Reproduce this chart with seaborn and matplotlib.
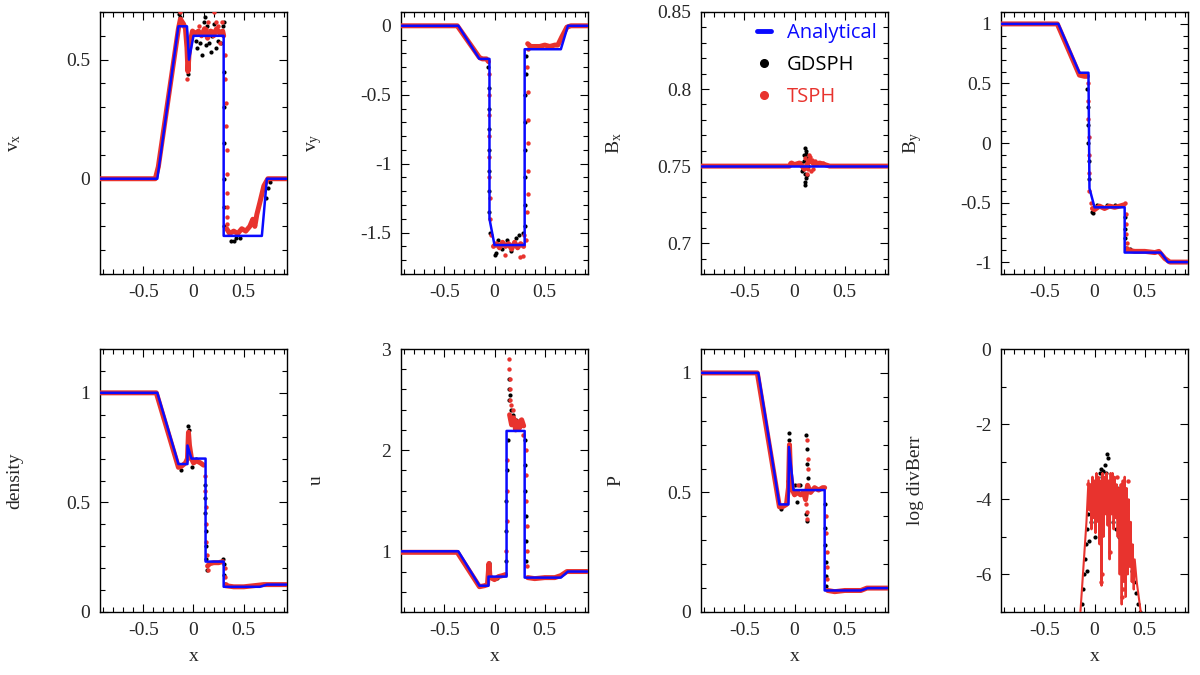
import numpy as np
import pandas as pd
import matplotlib.pyplot as plt
import seaborn as sns
from matplotlib.ticker import MultipleLocator, FormatStrFormatter
from matplotlib.lines import Line2D

sns.set_style("ticks")
plt.rcParams["font.family"] = ["Liberation Serif", "DejaVu Serif"]
plt.rcParams["mathtext.fontset"] = "custom"
plt.rcParams["mathtext.rm"] = "Liberation Serif"
plt.rcParams["mathtext.it"] = "Liberation Serif"

nan = np.nan
BLUE = "#0a0aff"
RED = "#e8332e"

# --- values: (x, value) pairs ---
# analytical solution (piecewise linear breakpoints)
vx_ana = [(-0.93, 0), (-0.36, 0), (-0.15, 0.64), (-0.065, 0.64), (-0.045, 0.50), (0.0, 0.60),
          (0.30, 0.60), (0.30, -0.24), (0.68, -0.24), (0.73, 0), (0.93, 0)]
vy_ana = [(-0.93, 0), (-0.36, 0), (-0.15, -0.24), (-0.05, -0.24), (-0.05, -1.40), (0.0, -1.59),
          (0.30, -1.59), (0.30, -0.17), (0.66, -0.17), (0.73, 0), (0.93, 0)]
bx_ana = [(-0.93, 0.75), (0.93, 0.75)]
by_ana = [(-0.93, 1), (-0.36, 1), (-0.15, 0.59), (-0.06, 0.59), (-0.05, -0.38), (0.0, -0.54),
          (0.30, -0.54), (0.30, -0.92), (0.66, -0.92), (0.73, -1), (0.93, -1)]
rho_ana = [(-0.93, 1), (-0.36, 1), (-0.15, 0.675), (-0.06, 0.675), (-0.06, 0.76), (-0.02, 0.70),
           (0.12, 0.70), (0.12, 0.23), (0.30, 0.23), (0.30, 0.115), (0.66, 0.115), (0.73, 0.125),
           (0.93, 0.125)]
u_ana = [(-0.93, 1), (-0.36, 1), (-0.15, 0.66), (-0.06, 0.66), (-0.06, 0.75), (0.12, 0.75),
         (0.12, 2.19), (0.30, 2.19), (0.30, 0.74), (0.66, 0.74), (0.73, 0.80), (0.93, 0.80)]
p_ana = [(-0.93, 1), (-0.36, 1), (-0.15, 0.45), (-0.06, 0.45), (-0.055, 0.69), (-0.01, 0.51),
         (0.30, 0.51), (0.30, 0.09), (0.66, 0.09), (0.73, 0.10), (0.93, 0.10)]

# TSPH particle band (nan = gap at a jump)
vx_tsph = [(-0.93, 0), (-0.38, 0), (-0.35, 0.05), (-0.15, 0.63), (-0.13, 0.67), (-0.10, 0.65),
           (-0.08, 0.63), (-0.065, 0.55), (-0.055, 0.45), (-0.045, 0.52), (-0.03, 0.58), (-0.01, 0.62),
           (0.02, 0.61), (0.05, 0.62), (0.08, 0.60), (0.11, 0.63), (0.14, 0.59), (0.17, 0.62),
           (0.20, 0.60), (0.23, 0.63), (0.26, 0.61), (0.29, 0.62), (0.30, 0.60), (nan, nan),
           (0.33, -0.21), (0.36, -0.23), (0.40, -0.22), (0.44, -0.23), (0.48, -0.21), (0.52, -0.22),
           (0.56, -0.20), (0.59, -0.17), (0.61, -0.20), (0.63, -0.15), (0.66, -0.10), (0.70, -0.03),
           (0.74, 0), (0.93, 0)]
vy_tsph = [(-0.93, 0), (-0.37, 0), (-0.15, -0.23), (-0.12, -0.24), (-0.08, -0.24), (-0.06, -0.26),
           (nan, nan), (-0.01, -1.60), (0.02, -1.58), (0.05, -1.61), (0.08, -1.57), (0.11, -1.60),
           (0.14, -1.58), (0.17, -1.62), (0.20, -1.57), (0.23, -1.61), (0.26, -1.58), (0.29, -1.60),
           (nan, nan), (0.33, -0.13), (0.36, -0.15), (0.40, -0.15), (0.45, -0.15), (0.50, -0.14),
           (0.55, -0.15), (0.60, -0.14), (0.63, -0.14), (0.67, -0.08), (0.72, -0.01), (0.76, 0),
           (0.93, 0)]
bx_tsph = [(-0.93, 0.75), (-0.05, 0.75), (-0.03, 0.752), (0.0, 0.751), (0.05, 0.752), (0.10, 0.748),
           (0.15, 0.754), (0.20, 0.751), (0.25, 0.752), (0.30, 0.751), (0.35, 0.75), (0.93, 0.75)]
by_tsph = [(-0.93, 1), (-0.37, 1), (-0.15, 0.57), (-0.10, 0.56), (-0.07, 0.56), (nan, nan),
           (-0.02, -0.55), (0.0, -0.56), (0.05, -0.53), (0.10, -0.55), (0.15, -0.53), (0.20, -0.54),
           (0.25, -0.53), (0.29, -0.52), (nan, nan), (0.33, -0.90), (0.40, -0.91), (0.50, -0.91),
           (0.60, -0.92), (0.64, -0.91), (0.70, -0.97), (0.75, -1.0), (0.93, -1.0)]
rho_tsph = [(-0.93, 1), (-0.37, 1), (-0.15, 0.66), (-0.12, 0.665), (-0.08, 0.68), (-0.06, 0.70),
            (-0.05, 0.82), (-0.04, 0.76), (-0.02, 0.70), (0.0, 0.68), (0.03, 0.69), (0.07, 0.68),
            (0.10, 0.67), (nan, nan), (0.14, 0.21), (0.16, 0.22), (0.20, 0.225), (0.25, 0.225),
            (0.29, 0.23), (nan, nan), (0.32, 0.12), (0.40, 0.115), (0.50, 0.115), (0.60, 0.12),
            (0.70, 0.125), (0.93, 0.125)]
u_tsph = [(-0.93, 0.99), (-0.37, 0.99), (-0.15, 0.65), (-0.10, 0.66), (-0.07, 0.67), (-0.055, 0.88),
          (-0.045, 0.75), (-0.02, 0.73), (0.0, 0.72), (0.04, 0.75), (0.08, 0.76), (0.11, 0.77),
          (nan, nan), (0.15, 2.35), (0.17, 2.25), (0.19, 2.32), (0.21, 2.20), (0.23, 2.28),
          (0.25, 2.22), (0.27, 2.30), (0.29, 2.24), (nan, nan), (0.33, 0.74), (0.40, 0.73),
          (0.50, 0.74), (0.60, 0.74), (0.66, 0.76), (0.72, 0.80), (0.93, 0.80)]
p_tsph = [(-0.93, 1), (-0.37, 1), (-0.15, 0.44), (-0.12, 0.44), (-0.08, 0.45), (-0.06, 0.52),
          (-0.05, 0.70), (-0.04, 0.58), (-0.02, 0.51), (0.0, 0.49), (0.03, 0.50), (0.06, 0.49),
          (0.09, 0.50), (0.11, 0.47), (0.13, 0.53), (0.16, 0.50), (0.20, 0.52), (0.24, 0.51),
          (0.28, 0.52), (0.30, 0.52), (nan, nan), (0.33, 0.09), (0.40, 0.085), (0.50, 0.09),
          (0.60, 0.09), (0.66, 0.09), (0.72, 0.10), (0.93, 0.10)]
divb_tsph = [(-0.14, -7), (-0.12, -6.2), (-0.10, -5.4), (-0.08, -4.6), (-0.06, -3.5), (-0.05, -4.3),
             (-0.04, -3.6), (-0.03, -4.8), (-0.02, -3.4), (-0.01, -4.5), (0.0, -3.5), (0.01, -4.9),
             (0.02, -3.3), (0.03, -4.6), (0.04, -3.4), (0.05, -5.2), (0.06, -3.5), (0.07, -6.3),
             (0.08, -3.3), (0.09, -5.0), (0.10, -3.4), (0.11, -4.4), (0.12, -3.3), (0.13, -4.7),
             (0.14, -3.5), (0.15, -5.6), (0.16, -3.3), (0.17, -4.4), (0.18, -3.3), (0.19, -4.8),
             (0.20, -3.4), (0.21, -4.5), (0.22, -3.6), (0.23, -5.0), (0.24, -3.7), (0.25, -6.0),
             (0.26, -3.6), (0.27, -6.8), (0.28, -3.5), (0.29, -6.2), (0.30, -3.4), (0.31, -6.6),
             (0.32, -3.7), (0.33, -6.0), (0.34, -4.0), (0.35, -5.8), (0.36, -4.6), (0.37, -6.2),
             (0.38, -5.2), (0.39, -6.4), (0.40, -5.6), (0.42, -6.2), (0.44, -6.6), (0.46, -7.0)]

# scattered TSPH particles (jumps and noise)
vx_tsph_dots = [(-0.135, 0.70), (-0.06, 0.42), (-0.05, 0.48), (0.05, 0.64), (0.12, 0.63), (0.14, 0.66),
                (0.18, 0.62), (0.20, 0.70), (0.22, 0.66), (0.24, 0.64), (0.26, 0.57), (0.28, 0.66),
                (0.31, 0.52), (0.315, 0.42), (0.32, 0.32), (0.325, 0.22), (0.33, 0.12), (0.33, 0.02),
                (0.335, -0.06), (0.335, -0.12), (0.335, -0.16), (0.33, -0.19)]
vy_tsph_dots = [(-0.055, -0.35), (-0.054, -0.5), (-0.053, -0.65), (-0.052, -0.8), (-0.051, -0.95),
                (-0.05, -1.1), (-0.048, -1.25), (-0.045, -1.4), (-0.03, -1.52), (0.31, -1.55),
                (0.32, -1.35), (0.33, -1.22), (0.33, -1.05), (0.33, -0.85), (0.33, -0.68),
                (0.33, -0.48), (0.32, -0.3), (0.33, -0.17), (0.25, -1.68), (0.28, -1.67),
                (0.29, -1.52), (0.10, -1.66)]
bx_tsph_dots = [(0.14, 0.757), (0.15, 0.756), (0.17, 0.754), (0.12, 0.745), (0.16, 0.747),
                (0.18, 0.748), (0.20, 0.753), (-0.04, 0.752), (0.28, 0.752), (0.10, 0.755),
                (0.13, 0.748)]
by_tsph_dots = [(-0.065, 0.5), (-0.062, 0.35), (-0.06, 0.2), (-0.058, 0.05), (-0.056, -0.1),
                (-0.054, -0.25), (-0.05, -0.4), (-0.03, -0.5), (0.30, -0.50), (0.31, -0.60),
                (0.31, -0.68), (0.31, -0.76), (0.32, -0.84), (0.32, -0.88)]
rho_tsph_dots = [(0.11, 0.62), (0.115, 0.55), (0.12, 0.48), (0.12, 0.40), (0.125, 0.32), (0.13, 0.26),
                 (-0.05, 0.80), (-0.055, 0.74), (0.31, 0.20), (0.31, 0.16), (0.32, 0.13), (0.14, 0.19)]
u_tsph_dots = [(0.115, 1.0), (0.12, 1.3), (0.12, 1.6), (0.125, 1.9), (0.14, 2.9), (0.145, 2.8),
               (0.15, 2.7), (0.15, 2.6), (0.155, 2.5), (0.16, 2.45), (0.18, 2.4), (0.20, 2.3),
               (0.25, 2.3), (0.28, 2.15), (0.31, 2.0), (0.31, 1.75), (0.315, 1.5), (0.32, 1.25),
               (0.32, 1.0), (0.325, 0.85)]
p_tsph_dots = [(0.12, 0.72), (0.13, 0.64), (0.13, 0.60), (0.12, 0.42), (0.12, 0.39), (0.11, 0.45),
               (-0.05, 0.66), (-0.055, 0.60), (0.31, 0.40), (0.31, 0.33), (0.32, 0.25), (0.32, 0.19),
               (0.32, 0.14), (0.03, 0.53)]
divb_tsph_dots = [(-0.06, -3.6), (0.02, -3.7), (0.06, -6.2), (0.07, -6.0), (0.15, -5.4),
                  (0.27, -6.6), (0.28, -6.4), (0.22, -3.4), (0.33, -3.5)]

# scattered GDSPH particles
vx_gd_dots = [(-0.14, 0.69), (-0.13, 0.68), (-0.055, 0.47), (-0.05, 0.44), (0.02, 0.58), (0.03, 0.55),
              (0.06, 0.57), (0.08, 0.52), (0.10, 0.66), (0.11, 0.68), (0.12, 0.56), (0.13, 0.64),
              (0.15, 0.57), (0.17, 0.53), (0.18, 0.60), (0.20, 0.65), (0.22, 0.55), (0.24, 0.58),
              (0.25, 0.62), (0.27, 0.57), (0.29, 0.64), (0.30, 0.66), (0.302, 0.45), (0.303, 0.30),
              (0.304, 0.15), (0.305, 0.0), (0.306, -0.12), (0.308, -0.20), (0.37, -0.26), (0.40, -0.26),
              (0.42, -0.25), (0.46, -0.25), (0.72, -0.08), (0.74, -0.04), (0.76, -0.015)]
vy_gd_dots = [(-0.06, -0.30), (-0.058, -0.45), (-0.056, -0.6), (-0.055, -0.75), (-0.054, -0.9),
              (-0.053, -1.05), (-0.052, -1.2), (-0.05, -1.35), (-0.045, -1.5), (0.0, -1.66),
              (0.01, -1.65), (0.03, -1.55), (0.07, -1.62), (0.12, -1.55), (0.16, -1.63),
              (0.21, -1.54), (0.24, -1.52), (0.28, -1.50), (0.30, -1.45), (0.305, -1.3),
              (0.305, -1.1), (0.305, -0.9), (0.306, -0.7), (0.307, -0.5), (0.31, -0.35), (0.31, -0.22)]
bx_gd_dots = [(0.10, 0.762), (0.11, 0.758), (0.11, 0.742), (0.105, 0.738), (0.105, 0.740),
              (0.10, 0.745), (0.12, 0.755), (0.09, 0.753), (0.08, 0.748), (0.07, 0.747),
              (0.12, 0.744), (0.13, 0.750), (0.06, 0.752), (0.09, 0.757), (0.115, 0.760)]
by_gd_dots = [(-0.07, 0.45), (-0.066, 0.3), (-0.063, 0.15), (-0.061, 0.0), (-0.059, -0.15),
              (-0.057, -0.3), (-0.02, -0.58), (-0.01, -0.59), (0.02, -0.52), (0.12, -0.52),
              (0.20, -0.52), (0.30, -0.62), (0.30, -0.72), (0.305, -0.80), (0.31, -0.88), (0.35, -0.89)]
rho_gd_dots = [(-0.05, 0.85), (-0.045, 0.83), (-0.055, 0.78), (0.02, 0.70), (-0.01, 0.66),
               (-0.12, 0.65), (0.11, 0.58), (0.115, 0.52), (0.118, 0.45), (0.12, 0.37),
               (0.122, 0.30), (0.125, 0.24), (0.13, 0.19), (0.29, 0.24), (0.30, 0.22),
               (0.305, 0.17), (0.31, 0.13)]
u_gd_dots = [(0.11, 0.9), (0.115, 1.2), (0.118, 1.5), (0.12, 1.8), (0.13, 2.1), (0.14, 2.7),
             (0.14, 2.6), (0.145, 2.5), (0.15, 2.55), (0.16, 2.4), (0.18, 2.35), (0.21, 2.3),
             (0.24, 2.25), (0.30, 2.1), (0.305, 1.85), (0.305, 1.6), (0.31, 1.35), (0.31, 1.1),
             (0.315, 0.9), (-0.055, 0.88), (-0.05, 0.85), (0.02, 0.74)]
p_gd_dots = [(-0.055, 0.75), (-0.05, 0.72), (-0.06, 0.55), (-0.13, 0.43), (0.0, 0.53), (0.02, 0.46),
             (0.11, 0.74), (0.12, 0.68), (0.12, 0.62), (0.12, 0.38), (0.115, 0.41), (0.13, 0.56),
             (0.05, 0.53), (0.305, 0.45), (0.305, 0.35), (0.305, 0.28), (0.31, 0.21), (0.31, 0.15),
             (0.31, 0.11)]
divb_gd_dots = [(-0.12, -6.8), (-0.11, -6.4), (-0.10, -6.0), (-0.09, -5.6), (-0.08, -5.2),
                (-0.07, -4.8), (-0.06, -4.4), (-0.05, -4.1), (-0.07, -5.9), (-0.05, -5.1),
                (-0.03, -4.6), (0.0, -5.0), (0.02, -4.1), (0.04, -3.6), (0.05, -3.3), (0.06, -3.2),
                (0.07, -3.4), (0.08, -3.25), (0.09, -3.5), (0.10, -3.1), (0.11, -3.3), (0.12, -2.8),
                (0.13, -2.9), (0.14, -3.6), (0.15, -4.2), (0.16, -3.8), (0.18, -4.6), (0.19, -3.9),
                (0.20, -4.3), (0.21, -4.8), (0.22, -3.7), (0.23, -4.5), (0.24, -5.0), (0.25, -4.6),
                (0.26, -3.9), (0.33, -5.0), (0.35, -5.5), (0.37, -5.9), (0.39, -6.2), (0.41, -6.5),
                (0.43, -6.8), (0.45, -7.0)]

# label, analytical, band, red dots, black dots, ylim, major, minor
panels = [
    (r"v$_{\rm x}$", vx_ana, vx_tsph, vx_tsph_dots, vx_gd_dots, (-0.4, 0.7), 0.5, 0.1),
    (r"v$_{\rm y}$", vy_ana, vy_tsph, vy_tsph_dots, vy_gd_dots, (-1.8, 0.1), 0.5, 0.1),
    (r"B$_{\rm x}$", bx_ana, bx_tsph, bx_tsph_dots, bx_gd_dots, (0.68, 0.85), 0.05, 0.01),
    (r"B$_{\rm y}$", by_ana, by_tsph, by_tsph_dots, by_gd_dots, (-1.1, 1.1), 0.5, 0.1),
    ("density", rho_ana, rho_tsph, rho_tsph_dots, rho_gd_dots, (0, 1.2), 0.5, 0.1),
    ("u", u_ana, u_tsph, u_tsph_dots, u_gd_dots, (0.4, 3.0), 1, 0.2),
    ("P", p_ana, p_tsph, p_tsph_dots, p_gd_dots, (0, 1.1), 0.5, 0.1),
    ("log divBerr", None, divb_tsph, divb_tsph_dots, divb_gd_dots, (-7, 0), 2, 1),
]


def to_df(points):
    d = pd.DataFrame(points, columns=["x", "y"])
    d["seg"] = d["y"].isna().cumsum()
    return d.dropna()


fig = plt.figure(figsize=(12, 6.75), dpi=100)
lefts = [100, 401, 701, 1001]
rows = [(274, 262), (612, 263)]

for i, (label, ana, band, rdots, kdots, ylim, major, minor) in enumerate(panels):
    bottom_px, h_px = rows[i // 4]
    ax = fig.add_axes([lefts[i % 4] / 1200, (675 - bottom_px) / 675, 187 / 1200, h_px / 675])

    kd = to_df(kdots)
    sns.scatterplot(data=kd, x="x", y="y", color="black", s=9, linewidth=0, ax=ax, zorder=2)
    bd = to_df(band)
    sns.lineplot(data=bd, x="x", y="y", units="seg", estimator=None, sort=False,
                 color=RED, lw=1.5 if ana is None else 3.6, ax=ax, zorder=3)
    rd = to_df(rdots)
    sns.scatterplot(data=rd, x="x", y="y", color=RED, s=10, linewidth=0, ax=ax, zorder=3)
    if ana is not None:
        ad = to_df(ana)
        sns.lineplot(data=ad, x="x", y="y", estimator=None, sort=False,
                     color=BLUE, lw=1.8, ax=ax, zorder=4)

    ax.set_xlim(-0.93, 0.93)
    ax.set_ylim(*ylim)
    ax.xaxis.set_major_locator(MultipleLocator(0.5))
    ax.xaxis.set_minor_locator(MultipleLocator(0.1))
    ax.yaxis.set_major_locator(MultipleLocator(major))
    ax.yaxis.set_minor_locator(MultipleLocator(minor))
    ax.xaxis.set_major_formatter(FormatStrFormatter("%g"))
    ax.yaxis.set_major_formatter(FormatStrFormatter("%g"))
    ax.tick_params(which="both", direction="in", top=True, right=True, labelsize=14,
                   pad=7, color="black", width=0.8)
    ax.tick_params(which="major", length=6)
    ax.tick_params(which="minor", length=3.5)
    for sp in ax.spines.values():
        sp.set_color("black")
        sp.set_linewidth(1.0)

    ax.set_ylabel(label, fontsize=14)
    ax.yaxis.set_label_coords(-0.41, 0.5)
    if i >= 4:
        ax.set_xlabel("x", fontsize=14)
        ax.xaxis.set_label_coords(0.5, -0.135)
    else:
        ax.set_xlabel("")

    if i == 2:
        handles = [Line2D([0], [0], color=BLUE, lw=3.5),
                   Line2D([0], [0], color="black", marker="o", ms=5.5, lw=0),
                   Line2D([0], [0], color=RED, marker="o", ms=5.5, lw=0)]
        ax.legend(handles, ["Analytical", "GDSPH", "TSPH"], loc="upper right",
                  frameon=False, handlelength=0.7, handletextpad=0.8, labelspacing=0.6,
                  borderaxespad=0.15, labelcolor=[BLUE, "black", RED],
                  prop={"family": "Open Sans", "size": 14.5})

fig.savefig("out.png", dpi=100)
